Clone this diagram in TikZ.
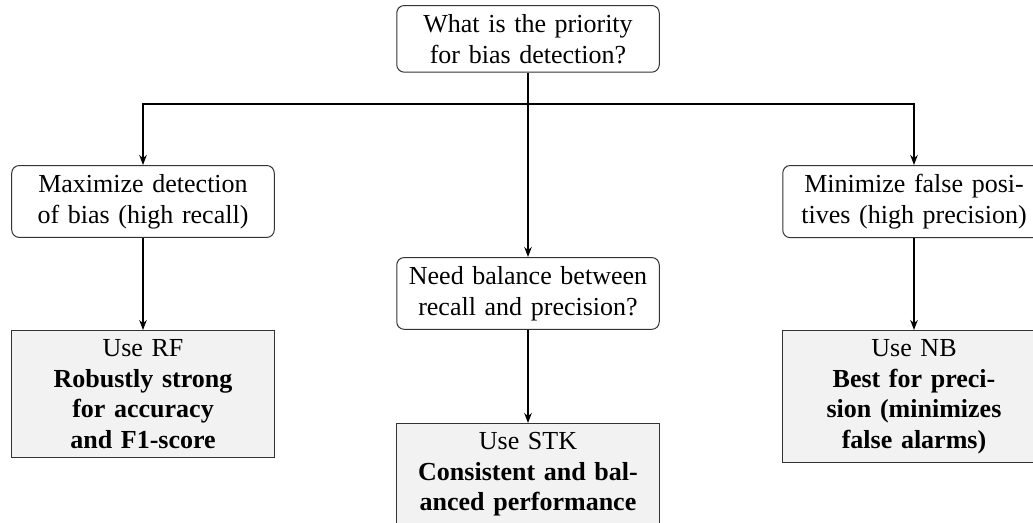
\documentclass[tikz,border=0pt]{standalone}
\usepackage{fontspec}
\setmainfont{Liberation Serif}
\usepackage{xcolor}
\usetikzlibrary{arrows.meta}
\definecolor{resultgray}{HTML}{F2F2F2}

\tikzset{
  question/.style={draw=black!80, rounded corners=3pt, fill=white,
    minimum width=105pt, text width=98pt, align=center,
    inner xsep=3pt, inner ysep=3.5pt, font=\fontsize{10.4}{12.3}\selectfont},
  result/.style={draw=black!80, fill=resultgray,
    minimum width=105pt, text width=98pt, align=center,
    inner xsep=3pt, inner ysep=3.5pt, font=\fontsize{10.4}{12.3}\selectfont},
  flow/.style={-{Stealth[length=4pt,width=3pt]}, line width=0.7pt}
}

\begin{document}
\begin{tikzpicture}[x=0.4pt, y=-0.4pt]
  \useasboundingbox (0,0) rectangle (1033,522);

  % decision nodes
  \node[question, anchor=north] (priority) at (528,5)
    {What is the priority\\for bias detection?};
  \node[question, anchor=north] (recall) at (143,165)
    {Maximize detection\\of bias (high recall)};
  \node[question, anchor=north] (balance) at (528,257)
    {Need balance between\\recall and precision?};
  \node[question, anchor=north] (precision) at (914,165)
    {Minimize false posi-\\tives (high precision)};

  % recommendations
  \node[result, anchor=north] (useRF) at (143,330)
    {Use RF\\\textbf{Robustly strong}\\\textbf{for accuracy}\\\textbf{and F1-score}};
  \node[result, anchor=north] (useSTK) at (528,423)
    {Use STK\\\textbf{Consistent and bal-}\\\textbf{anced performance}};
  \node[result, anchor=north] (useNB) at (914,330)
    {Use NB\\\textbf{Best for preci-}\\\textbf{sion (minimizes}\\\textbf{false alarms)}};

  % connectors
  \coordinate (split) at (528,104);
  \draw[line width=0.7pt] (priority.south) -- (split);
  \draw[flow] (split) -| (recall.north);
  \draw[flow] (split) -| (precision.north);
  \draw[flow] (split) -- (balance.north);
  \draw[flow] (recall) -- (useRF);
  \draw[flow] (balance) -- (useSTK);
  \draw[flow] (precision) -- (useNB);
\end{tikzpicture}
\end{document}
